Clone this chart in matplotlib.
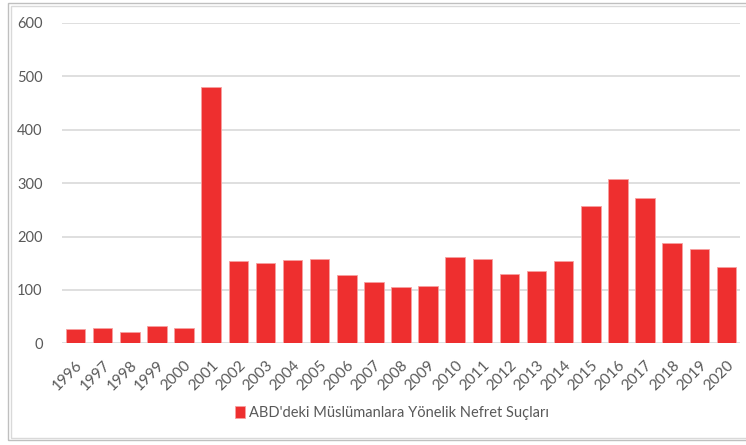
import matplotlib
matplotlib.use("Agg")
import matplotlib.pyplot as plt
from matplotlib.patches import Rectangle

years = [str(y) for y in range(1996, 2021)]
values = [27, 29, 22, 32, 28, 481, 155, 150, 156, 158, 128, 115, 105, 107,
          161, 158, 130, 135, 154, 257, 308, 273, 188, 176, 142]
series_name = "ABD'deki Müslümanlara Yönelik Nefret Suçları"
yticks = [0, 100, 200, 300, 400, 500, 600]

plt.rcParams['font.family'] = ['Lato', 'DejaVu Sans']
txt = '#595959'
red = '#EE2F2F'

fig = plt.figure(figsize=(7.46, 4.45), dpi=100)
W, H = 746, 445
ax = fig.add_axes([62 / W, 1 - 343.3 / H, (740 - 62) / W, (343.3 - 23) / H])

x = range(len(years))
ax.bar(x, values, width=0.72, color=red, edgecolor='#F7A0A0', linewidth=0.6,
       label=series_name, zorder=3)
ax.set_xlim(-0.5, len(years) - 0.5)
ax.set_ylim(0, 600)
ax.set_yticks(yticks)
ax.set_yticklabels([str(v) for v in yticks], color=txt, fontsize=10.5)
ax.set_xticks(list(x))
ax.set_xticklabels(years, rotation=45, ha='right', rotation_mode='anchor',
                   color=txt, fontsize=11)
for lbl in ax.get_xticklabels():
    lbl.set_x(lbl.get_position()[0])
ax.tick_params(axis='both', length=0)
ax.tick_params(axis='y', pad=14)
ax.tick_params(axis='x', pad=11)
ax.grid(axis='y', color='#D9D9D9', linewidth=1.2, zorder=0)
for s in ax.spines.values():
    s.set_visible(False)

leg = fig.legend(loc='center', bbox_to_anchor=(392 / W, 1 - 413 / H),
                 frameon=False, fontsize=10.5, handlelength=0.7,
                 handleheight=0.9, handletextpad=0.3)
for t in leg.get_texts():
    t.set_color(txt)

# outer frame
fig.add_artist(Rectangle((8 / W, 1 - 440 / H), (760 - 8) / W, (440 - 3) / H,
                         transform=fig.transFigure, fill=False,
                         edgecolor='#BFBFBF', linewidth=1.0))
fig.add_artist(Rectangle((10.5 / W, 1 - 437.5 / H), (760 - 10.5) / W, (437.5 - 5.5) / H,
                         transform=fig.transFigure, fill=False,
                         edgecolor='#D9D9D9', linewidth=1.0))

fig.savefig('out.png', dpi=100)
